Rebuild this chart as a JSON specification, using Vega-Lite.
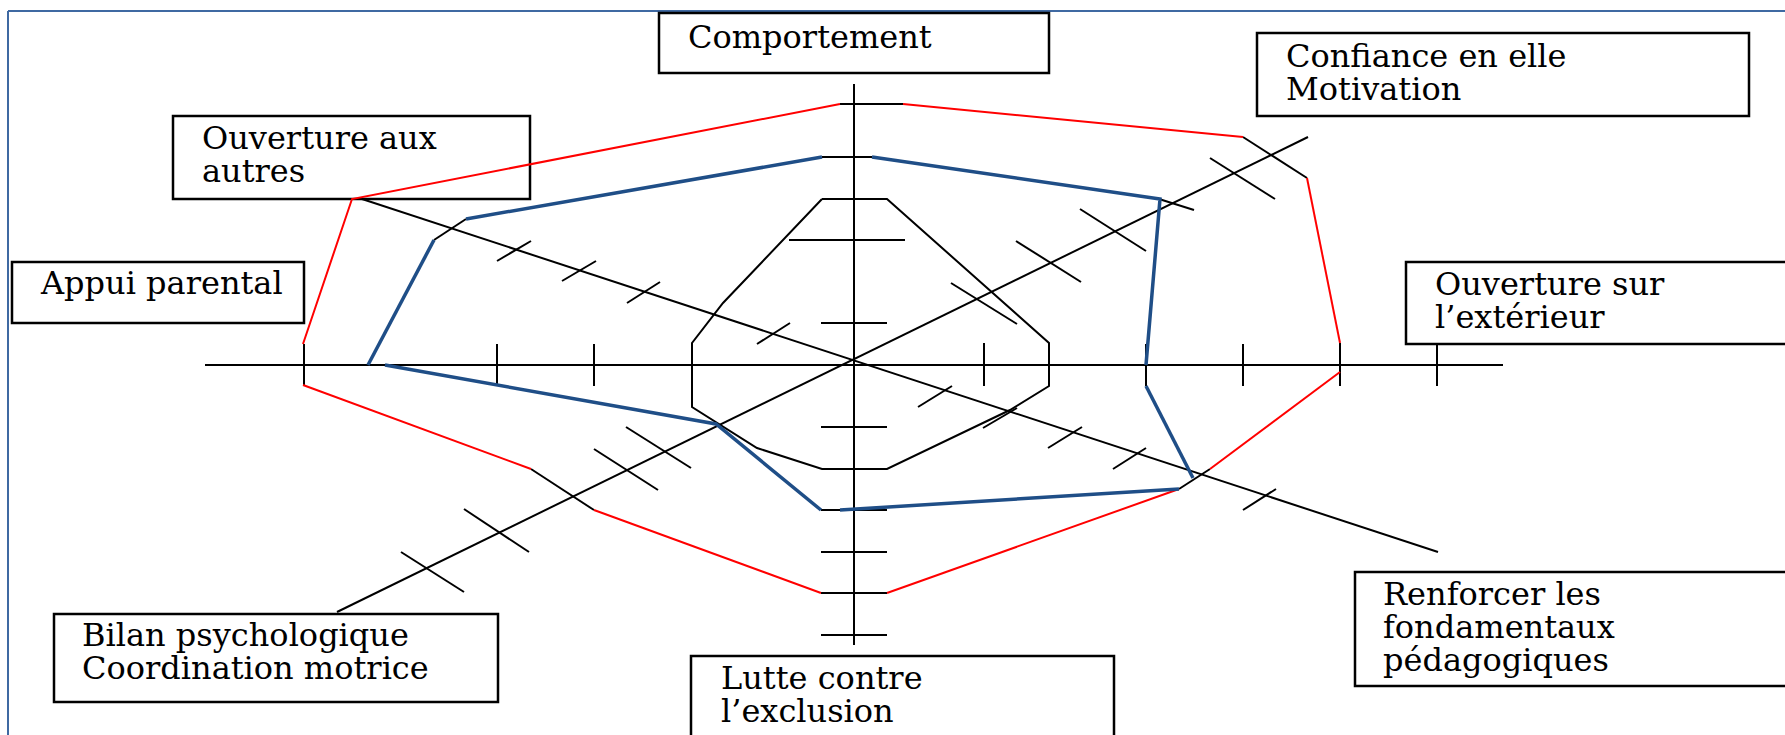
{
  "$schema": "https://vega.github.io/schema/vega-lite/v6.json",
  "width": 1785,
  "height": 735,
  "padding": 0,
  "autosize": {"type": "none"},
  "background": "white",
  "config": {"view": {"stroke": null}},
  "datasets": {
    "cadre": [
      {"x": 8, "y": 11, "x2": 8, "y2": 760},
      {"x": 8, "y": 11, "x2": 1800, "y2": 11}
    ],
    "boites": [
      {"x": 659, "x2": 1049, "y": 13, "y2": 73},
      {"x": 1257, "x2": 1749, "y": 33, "y2": 116},
      {"x": 1406, "x2": 1800, "y": 262, "y2": 344},
      {"x": 173, "x2": 530, "y": 116, "y2": 199},
      {"x": 12, "x2": 304, "y": 262, "y2": 323},
      {"x": 54, "x2": 498, "y": 614, "y2": 702},
      {"x": 691, "x2": 1114, "y": 656, "y2": 780},
      {"x": 1355, "x2": 1800, "y": 572, "y2": 686}
    ],
    "segments": [
      {"x": 205, "y": 365, "x2": 1503, "y2": 365},
      {"x": 854, "y": 84, "x2": 854, "y2": 645},
      {"x": 337, "y": 612, "x2": 1308, "y2": 137},
      {"x": 362, "y": 199, "x2": 1438, "y2": 552},
      {"x": 304, "y": 344, "x2": 304, "y2": 385},
      {"x": 497, "y": 344, "x2": 497, "y2": 386},
      {"x": 594, "y": 344, "x2": 594, "y2": 386},
      {"x": 984, "y": 343, "x2": 984, "y2": 386},
      {"x": 1146, "y": 344, "x2": 1146, "y2": 386},
      {"x": 1243, "y": 344, "x2": 1243, "y2": 386},
      {"x": 1340, "y": 343, "x2": 1340, "y2": 386},
      {"x": 1437, "y": 344, "x2": 1437, "y2": 386},
      {"x": 840, "y": 104, "x2": 903, "y2": 104},
      {"x": 822, "y": 157, "x2": 872, "y2": 157},
      {"x": 789, "y": 240, "x2": 905, "y2": 240},
      {"x": 821, "y": 323, "x2": 887, "y2": 323},
      {"x": 821, "y": 427, "x2": 887, "y2": 427},
      {"x": 821, "y": 510, "x2": 887, "y2": 510},
      {"x": 821, "y": 552, "x2": 887, "y2": 552},
      {"x": 821, "y": 593, "x2": 887, "y2": 593},
      {"x": 821, "y": 635, "x2": 887, "y2": 635},
      {"x": 401, "y": 552, "x2": 464, "y2": 592},
      {"x": 464, "y": 509, "x2": 529, "y2": 552},
      {"x": 531, "y": 469, "x2": 594, "y2": 510},
      {"x": 594, "y": 449, "x2": 658, "y2": 490},
      {"x": 626, "y": 427, "x2": 691, "y2": 468},
      {"x": 951, "y": 283, "x2": 1017, "y2": 324},
      {"x": 1016, "y": 241, "x2": 1081, "y2": 282},
      {"x": 1080, "y": 209, "x2": 1146, "y2": 251},
      {"x": 1159, "y": 199, "x2": 1194, "y2": 210},
      {"x": 1210, "y": 158, "x2": 1275, "y2": 199},
      {"x": 1243, "y": 137, "x2": 1307, "y2": 178},
      {"x": 434, "y": 240, "x2": 466, "y2": 219},
      {"x": 497, "y": 261, "x2": 531, "y2": 241},
      {"x": 562, "y": 281, "x2": 596, "y2": 261},
      {"x": 627, "y": 303, "x2": 660, "y2": 282},
      {"x": 757, "y": 344, "x2": 790, "y2": 323},
      {"x": 918, "y": 407, "x2": 952, "y2": 386},
      {"x": 983, "y": 428, "x2": 1017, "y2": 408},
      {"x": 1048, "y": 448, "x2": 1082, "y2": 427},
      {"x": 1113, "y": 469, "x2": 1146, "y2": 448},
      {"x": 1179, "y": 489, "x2": 1210, "y2": 469},
      {"x": 1243, "y": 510, "x2": 1276, "y2": 489}
    ],
    "profils": [
      {"serie": "rouge", "chaine": "r1", "k": 1, "x": 303, "y": 344},
      {"serie": "rouge", "chaine": "r1", "k": 2, "x": 352, "y": 199},
      {"serie": "rouge", "chaine": "r1", "k": 3, "x": 840, "y": 104},
      {"serie": "rouge", "chaine": "r2", "k": 1, "x": 903, "y": 104},
      {"serie": "rouge", "chaine": "r2", "k": 2, "x": 1243, "y": 137},
      {"serie": "rouge", "chaine": "r3", "k": 1, "x": 1307, "y": 178},
      {"serie": "rouge", "chaine": "r3", "k": 2, "x": 1340, "y": 343},
      {"serie": "rouge", "chaine": "r4", "k": 1, "x": 1340, "y": 372},
      {"serie": "rouge", "chaine": "r4", "k": 2, "x": 1210, "y": 469},
      {"serie": "rouge", "chaine": "r5", "k": 1, "x": 1179, "y": 489},
      {"serie": "rouge", "chaine": "r5", "k": 2, "x": 887, "y": 593},
      {"serie": "rouge", "chaine": "r6", "k": 1, "x": 821, "y": 593},
      {"serie": "rouge", "chaine": "r6", "k": 2, "x": 594, "y": 510},
      {"serie": "rouge", "chaine": "r7", "k": 1, "x": 531, "y": 469},
      {"serie": "rouge", "chaine": "r7", "k": 2, "x": 303, "y": 385},
      {"serie": "bleu", "chaine": "b1", "k": 1, "x": 872, "y": 157},
      {"serie": "bleu", "chaine": "b1", "k": 2, "x": 1160, "y": 199},
      {"serie": "bleu", "chaine": "b1", "k": 3, "x": 1146, "y": 365},
      {"serie": "bleu", "chaine": "b2", "k": 1, "x": 1146, "y": 386},
      {"serie": "bleu", "chaine": "b2", "k": 2, "x": 1193, "y": 478},
      {"serie": "bleu", "chaine": "b3", "k": 1, "x": 1179, "y": 489},
      {"serie": "bleu", "chaine": "b3", "k": 2, "x": 840, "y": 510},
      {"serie": "bleu", "chaine": "b4", "k": 1, "x": 821, "y": 510},
      {"serie": "bleu", "chaine": "b4", "k": 2, "x": 716, "y": 424},
      {"serie": "bleu", "chaine": "b4", "k": 3, "x": 385, "y": 365},
      {"serie": "bleu", "chaine": "b5", "k": 1, "x": 368, "y": 365},
      {"serie": "bleu", "chaine": "b5", "k": 2, "x": 434, "y": 240},
      {"serie": "bleu", "chaine": "b6", "k": 1, "x": 466, "y": 219},
      {"serie": "bleu", "chaine": "b6", "k": 2, "x": 822, "y": 157},
      {"serie": "noir", "chaine": "n1", "k": 1, "x": 822, "y": 199},
      {"serie": "noir", "chaine": "n1", "k": 2, "x": 887, "y": 199},
      {"serie": "noir", "chaine": "n1", "k": 3, "x": 1049, "y": 343},
      {"serie": "noir", "chaine": "n1", "k": 4, "x": 1049, "y": 386},
      {"serie": "noir", "chaine": "n1", "k": 5, "x": 1010, "y": 410},
      {"serie": "noir", "chaine": "n1", "k": 6, "x": 887, "y": 469},
      {"serie": "noir", "chaine": "n1", "k": 7, "x": 822, "y": 469},
      {"serie": "noir", "chaine": "n1", "k": 8, "x": 757, "y": 448},
      {"serie": "noir", "chaine": "n1", "k": 9, "x": 692, "y": 407},
      {"serie": "noir", "chaine": "n1", "k": 10, "x": 692, "y": 343},
      {"serie": "noir", "chaine": "n1", "k": 11, "x": 723, "y": 303},
      {"serie": "noir", "chaine": "n1", "k": 12, "x": 822, "y": 199}
    ],
    "libelles": [
      {"x": 688, "y": 48, "texte": "Comportement"},
      {"x": 1286, "y": 67, "texte": "Confiance en elle\nMotivation"},
      {"x": 1435, "y": 295, "texte": "Ouverture sur\nl’extérieur"},
      {"x": 202, "y": 149, "texte": "Ouverture aux\nautres"},
      {"x": 41, "y": 294, "texte": "Appui parental"},
      {"x": 82, "y": 646, "texte": "Bilan psychologique\nCoordination motrice"},
      {"x": 721, "y": 689, "texte": "Lutte contre\nl’exclusion"},
      {"x": 1383, "y": 605, "texte": "Renforcer les\nfondamentaux\npédagogiques"}
    ]
  },
  "encoding": {
    "x": {"field": "x", "type": "quantitative", "axis": null, "scale": {"domain": [0, 1785], "zero": false, "nice": false}},
    "y": {"field": "y", "type": "quantitative", "axis": null, "scale": {"domain": [0, 735], "zero": false, "nice": false, "reverse": true}}
  },
  "layer": [
    {
      "data": {"name": "cadre"},
      "mark": {"type": "rule", "color": "#3f69a2", "strokeWidth": 2},
      "encoding": {"x2": {"field": "x2"}, "y2": {"field": "y2"}}
    },
    {
      "data": {"name": "boites"},
      "mark": {"type": "rect", "fill": "white", "stroke": "black", "strokeWidth": 2.5},
      "encoding": {"x2": {"field": "x2"}, "y2": {"field": "y2"}}
    },
    {
      "data": {"name": "segments"},
      "mark": {"type": "rule", "color": "black", "strokeWidth": 2},
      "encoding": {"x2": {"field": "x2"}, "y2": {"field": "y2"}}
    },
    {
      "data": {"name": "profils"},
      "transform": [{"filter": "datum.serie === 'noir'"}],
      "mark": {"type": "line", "color": "#000000", "strokeWidth": 2, "strokeJoin": "miter"},
      "encoding": {
        "detail": {"field": "chaine"},
        "order": {"field": "k", "type": "quantitative"}
      }
    },
    {
      "data": {"name": "profils"},
      "transform": [{"filter": "datum.serie === 'rouge'"}],
      "mark": {"type": "line", "color": "#ff0000", "strokeWidth": 2, "strokeJoin": "miter"},
      "encoding": {
        "detail": {"field": "chaine"},
        "order": {"field": "k", "type": "quantitative"}
      }
    },
    {
      "data": {"name": "profils"},
      "transform": [{"filter": "datum.serie === 'bleu'"}],
      "mark": {"type": "line", "color": "#1f4e87", "strokeWidth": 3.5, "strokeJoin": "miter"},
      "encoding": {
        "detail": {"field": "chaine"},
        "order": {"field": "k", "type": "quantitative"}
      }
    },
    {
      "data": {"name": "libelles"},
      "mark": {"type": "text", "align": "left", "baseline": "alphabetic", "font": "DejaVu Serif", "fontSize": 32, "lineHeight": 33, "lineBreak": "\n", "color": "black"},
      "encoding": {"text": {"field": "texte"}}
    }
  ]
}
